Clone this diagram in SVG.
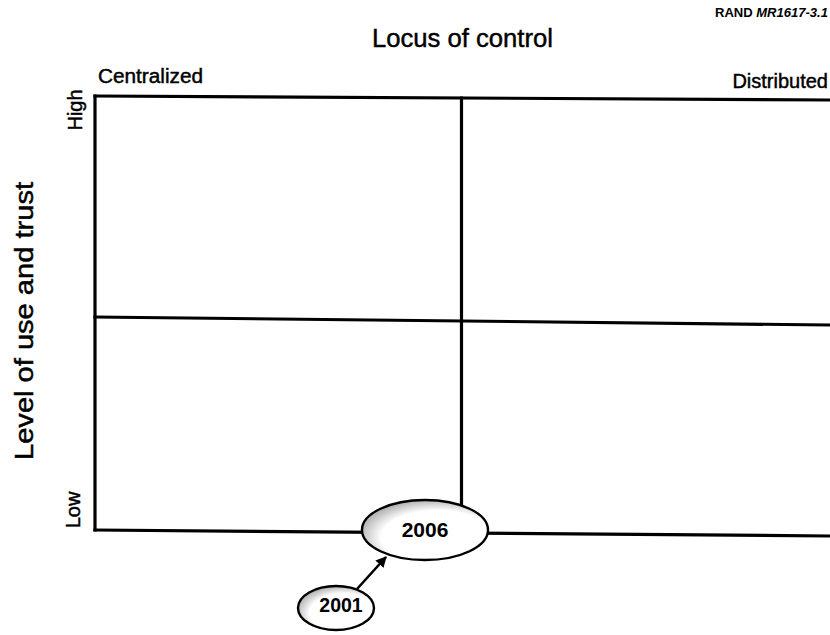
<svg xmlns="http://www.w3.org/2000/svg" width="830" height="635" viewBox="0 0 830 635">
  <style>
    text { font-family: "Liberation Sans", Arial, sans-serif; fill: #000; }
    .label { stroke: #000; stroke-width: 0.45; }
    .grid { stroke: #000; stroke-width: 3.2; fill: none; stroke-linecap: square; }
    .bubble { stroke: #000; stroke-width: 2.4; }
    .year { font-weight: bold; text-anchor: middle; }
    .conn { stroke: #000; stroke-width: 2.6; fill: none; }
  </style>
  <defs>
    <radialGradient id="shade" cx="0.6" cy="0.62" r="0.62">
      <stop offset="0.72" stop-color="#ffffff"/>
      <stop offset="1" stop-color="#b8b8b8"/>
    </radialGradient>
    <marker id="arrow" viewBox="0 0 10 10" refX="9" refY="5" markerWidth="4.2" markerHeight="4.2" orient="auto">
      <path d="M0,0 L10,5 L0,10 z" fill="#000"/>
    </marker>
  </defs>

  <rect width="830" height="635" fill="#fff"/>

  <!-- headings and axis labels -->
  <text x="828" y="17" font-size="12" font-weight="bold" text-anchor="end" textLength="113" lengthAdjust="spacingAndGlyphs">RAND <tspan font-style="italic">MR1617-3.1</tspan></text>
  <text class="label" x="462.5" y="47" font-size="26" text-anchor="middle" textLength="181" lengthAdjust="spacingAndGlyphs">Locus of control</text>
  <text class="label" x="98" y="83" font-size="20" textLength="105" lengthAdjust="spacingAndGlyphs">Centralized</text>
  <text class="label" x="828" y="88" font-size="20" text-anchor="end">Distributed</text>
  <text class="label" transform="translate(82,110) rotate(-90)" font-size="20" text-anchor="middle">High</text>
  <text class="label" transform="translate(80,510) rotate(-90)" font-size="20" text-anchor="middle">Low</text>
  <text class="label" transform="translate(33,321) rotate(-90)" font-size="25" text-anchor="middle" textLength="278" lengthAdjust="spacingAndGlyphs">Level of use and trust</text>

  <!-- quadrant grid -->
  <g id="grid">
    <line class="grid" x1="95" y1="96" x2="829" y2="100"/>
    <line class="grid" x1="95" y1="96" x2="95" y2="530"/>
    <line class="grid" x1="95" y1="530" x2="829" y2="536"/>
    <line class="grid" x1="461.5" y1="98" x2="461.5" y2="510"/>
    <line class="grid" x1="95" y1="317" x2="829" y2="325"/>
  </g>

  <!-- connectors -->
  <g id="connectors">
    <line class="conn" x1="357" y1="589" x2="386" y2="557" marker-end="url(#arrow)"/>
  </g>

  <g id="node-2006">
    <ellipse class="bubble" cx="425" cy="530" rx="63" ry="30" fill="url(#shade)"/>
    <text class="year" x="425" y="536.5" font-size="21">2006</text>
  </g>

  <g id="node-2001">
    <ellipse class="bubble" cx="336" cy="608" rx="38" ry="22" fill="url(#shade)"/>
    <text class="year" x="341" y="612" font-size="19.5">2001</text>
  </g>
</svg>
